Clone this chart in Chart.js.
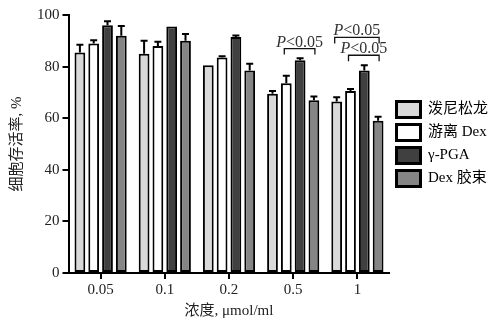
<!DOCTYPE html>
<html>
<head>
<meta charset="utf-8">
<script src="https://cdn.jsdelivr.net/npm/chart.js@4"></script>
<style>
  html, body { margin: 0; padding: 0; background: #fff; }
  #wrap { width: 502px; height: 325px; position: relative; }
</style>
</head>
<body>
<div id="wrap"><canvas id="viabilityChart"></canvas></div>
<script>
// Dados do gráfico
const concentrations = ['0.05', '0.1', '0.2', '0.5', '1'];
const seriesNames = ['泼尼松龙', '游离 Dex', 'γ-PGA', 'Dex 胶束'];
const prednisolone = [85.5, 85, 80.5, 69.5, 66.5];
const freeDex = [89, 88, 83.5, 73.5, 70.5];
const gammaPGA = [96, 95.5, 91.5, 82.5, 78.5];
const dexMicelle = [92, 90, 78.5, 67, 59];
const prednisoloneErr = [3, 5, 0, 1, 1.6];
const freeDexErr = [1.2, 1.6, 0.5, 3, 0.8];
const gammaPGAErr = [1.6, 0, 0.6, 0.7, 2];
const dexMicelleErr = [3.7, 2.6, 2.6, 1.4, 1.6];
const yTicks = [0, 20, 40, 60, 80, 100];
// Colchetes de significância: [categoria, série inicial, série final, nível]
const sigBrackets = [
    [3, 1, 3, 87],
    [4, 0, 3, 91.3],
    [4, 1, 3, 84.4]
];

const fills = ['#d9d9d9', '#ffffff', '#404040', '#858585'];
const values = [prednisolone, freeDex, gammaPGA, dexMicelle];
const errors = [prednisoloneErr, freeDexErr, gammaPGAErr, dexMicelleErr];

const serif = '"Liberation Serif", "DejaVu Serif", serif';
const cjk = '"Liberation Serif", "Noto Sans CJK SC", serif';

// Plugin: barras de erro (só para cima) e colchetes P<0.05
const errorBarPlugin = {
    id: 'errorBars',
    afterDatasetsDraw(chart) {
        const ctx = chart.ctx;
        const y = chart.scales.y;
        ctx.save();
        ctx.strokeStyle = '#000';
        ctx.lineWidth = 2;
        chart.data.datasets.forEach((ds, i) => {
            const meta = chart.getDatasetMeta(i);
            meta.data.forEach((bar, j) => {
                const e = errors[i][j];
                if (!e) return;
                const top = y.getPixelForValue(values[i][j] + e);
                ctx.beginPath();
                ctx.moveTo(bar.x, bar.y);
                ctx.lineTo(bar.x, top);
                ctx.moveTo(bar.x - 3.5, top);
                ctx.lineTo(bar.x + 3.5, top);
                ctx.stroke();
            });
        });

        // Colchetes
        ctx.lineWidth = 1.3;
        ctx.strokeStyle = '#111';
        ctx.fillStyle = '#333';
        sigBrackets.forEach(([cat, a, b, level]) => {
            const x1 = chart.getDatasetMeta(a).data[cat].x - 2;
            const x2 = chart.getDatasetMeta(b).data[cat].x + 1;
            const yy = y.getPixelForValue(level);
            ctx.beginPath();
            ctx.moveTo(x1, yy + 6);
            ctx.lineTo(x1, yy);
            ctx.lineTo(x2, yy);
            ctx.lineTo(x2, yy + 6);
            ctx.stroke();
            const cx = (x1 + x2) / 2;
            const ty = yy - 2;
            ctx.textBaseline = 'alphabetic';
            ctx.font = 'italic 16px ' + serif;
            const pW = ctx.measureText('P').width;
            ctx.font = '16px ' + serif;
            const rest = '<0.05';
            const rW = ctx.measureText(rest).width;
            const start = cx - (pW + rW) / 2;
            ctx.font = 'italic 16px ' + serif;
            ctx.textAlign = 'left';
            ctx.fillText('P', start, ty);
            ctx.font = '16px ' + serif;
            ctx.fillText(rest, start + pW, ty);
        });
        ctx.restore();
    }
};

const canvas = document.getElementById('viabilityChart');

new Chart(canvas, {
    type: 'bar',
    data: {
        labels: concentrations,
        datasets: seriesNames.map((name, i) => ({
            label: name,
            data: values[i],
            backgroundColor: fills[i],
            borderColor: '#000',
            borderWidth: 2,
            borderSkipped: false,
            categoryPercentage: 0.86,
            barPercentage: 0.78
        }))
    },
    options: {
        responsive: true,
        maintainAspectRatio: false,
        animation: false,
        layout: { padding: { top: 15, right: 4, left: 4, bottom: 3 } },
        scales: {
            x: {
                grid: { display: true, offset: false, drawOnChartArea: false, tickLength: 6, lineWidth: 2, color: '#000' },
                border: { color: '#000', width: 2 },
                ticks: { color: '#222', font: { family: serif, size: 15 }, padding: 2 },
                title: { display: true, text: '浓度, μmol/ml', color: '#222', font: { family: cjk, size: 15 }, padding: { top: 1, bottom: 2 } }
            },
            y: {
                min: 0,
                max: 100,
                afterBuildTicks: (axis) => { axis.ticks = yTicks.map(v => ({ value: v })); },
                grid: { display: true, drawOnChartArea: false, tickLength: 6, lineWidth: 2, color: '#000' },
                border: { color: '#000', width: 2 },
                ticks: { color: '#222', font: { family: serif, size: 15 }, padding: 3 },
                title: { display: true, text: '细胞存活率, %', color: '#222', font: { family: cjk, size: 15 }, padding: { bottom: 8 } }
            }
        },
        plugins: {
            legend: {
                position: 'right',
                fullSize: false,
                labels: {
                    color: '#222',
                    font: { family: cjk, size: 15 },
                    boxWidth: 24,
                    boxHeight: 16,
                    padding: 7,
                    generateLabels: (chart) => chart.data.datasets.map((ds, i) => ({
                        text: ds.label,
                        fillStyle: ds.backgroundColor,
                        strokeStyle: '#000',
                        lineWidth: 3,
                        datasetIndex: i
                    }))
                }
            },
            tooltip: { enabled: false }
        }
    },
    plugins: [errorBarPlugin]
});
</script>
</body>
</html>
